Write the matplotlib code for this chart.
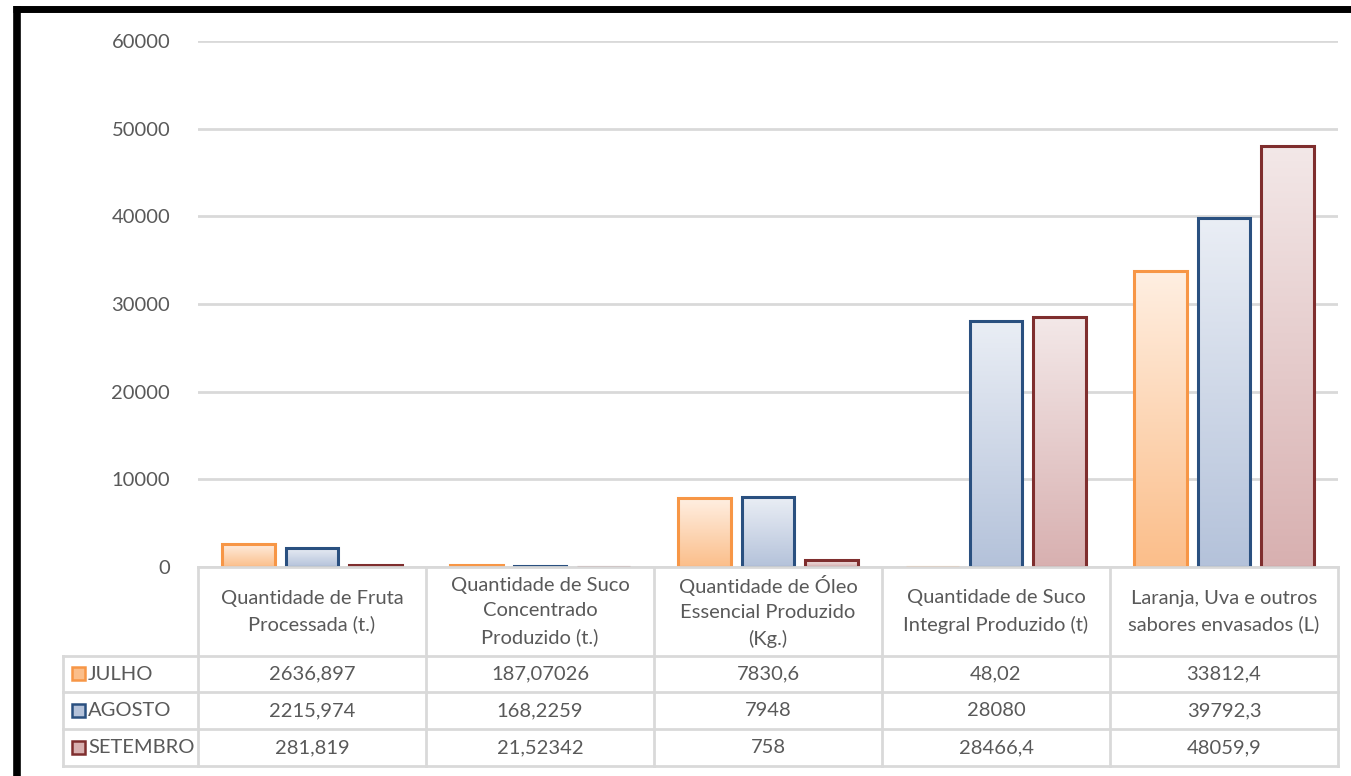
import numpy as np
import matplotlib
matplotlib.use("Agg")
import matplotlib.pyplot as plt
from matplotlib.colors import LinearSegmentedColormap
from matplotlib.patches import Rectangle

categories = [
    "Quantidade de Fruta\nProcessada (t.)",
    "Quantidade de Suco\nConcentrado\nProduzido (t.)",
    "Quantidade de Óleo\nEssencial Produzido\n(Kg.)",
    "Quantidade de Suco\nIntegral Produzido (t)",
    "Laranja, Uva e outros\nsabores envasados (L)",
]
series_names = ["JULHO", "AGOSTO", "SETEMBRO"]
julho = [2636.897, 187.07026, 7830.6, 48.02, 33812.4]
agosto = [2215.974, 168.2259, 7948, 28080, 39792.3]
setembro = [281.819, 21.52342, 758, 28466.4, 48059.9]
julho_txt = ["2636,897", "187,07026", "7830,6", "48,02", "33812,4"]
agosto_txt = ["2215,974", "168,2259", "7948", "28080", "39792,3"]
setembro_txt = ["281,819", "21,52342", "758", "28466,4", "48059,9"]
yticks = [0, 10000, 20000, 30000, 40000, 50000, 60000]

series = [julho, agosto, setembro]
series_txt = [julho_txt, agosto_txt, setembro_txt]
edge_colors = ["#F79646", "#2A5080", "#7F2E2E"]
grad = [("#FFEFE2", "#FBBE8A"), ("#EAEEF5", "#B4C2DA"), ("#F3E8E8", "#D8B0B0")]

plt.rcParams['font.family'] = ['Lato', 'DejaVu Sans']
TXT = "#595959"
GRID = "#D9D9D9"
FS = 14.5

W, H = 1351, 776
fig = plt.figure(figsize=(W / 100, H / 100), dpi=100)

# pixel layout
x0, x1 = 198, 1338
y_top, y_zero = 41, 567
ax = fig.add_axes([x0 / W, 1 - y_zero / H, (x1 - x0) / W, (y_zero - y_top) / H])
ax.set_xlim(-0.5, len(categories) - 0.5)
ax.set_ylim(0, 60000)
ax.set_yticks(yticks)
ax.set_yticklabels([str(v) for v in yticks], color=TXT, fontsize=FS)
ax.tick_params(axis='y', length=0, pad=20)
ax.set_xticks([])
for s in ax.spines.values():
    s.set_visible(False)
ax.grid(axis='y', color=GRID, linewidth=2)
ax.set_axisbelow(True)

xs = np.arange(len(categories))
bw = 0.232
off = 0.277
for i, vals in enumerate(series):
    bars = ax.bar(xs + (i - 1) * off, vals, width=bw, facecolor='none',
                  edgecolor=edge_colors[i], linewidth=2.2, zorder=3)
    cmap = LinearSegmentedColormap.from_list(f"g{i}", [grad[i][1], grad[i][0]])
    g = np.linspace(0, 1, 256).reshape(-1, 1)
    for b in bars:
        bx, by = b.get_x(), b.get_y()
        bwid, bh = b.get_width(), b.get_height()
        im = ax.imshow(g, cmap=cmap, origin='lower', aspect='auto',
                       extent=[bx, bx + bwid, by, by + bh], zorder=2,
                       interpolation='bilinear')
        im.set_clip_path(b)
ax.set_xlim(-0.5, len(categories) - 0.5)
ax.set_ylim(0, 60000)

# overlay axes for table and frame
ov = fig.add_axes([0, 0, 1, 1])
ov.set_xlim(0, W)
ov.set_ylim(H, 0)
ov.axis('off')

# frame
ov.plot([13, W], [9, 9], color='black', lw=5, solid_capstyle='butt')
ov.plot([16.5, 16.5], [6, H], color='black', lw=5.5, solid_capstyle='butt')

col_w = (x1 - x0) / len(categories)
row_top = [y_zero, 656, 692, 729, 766]
leg_x0 = 63
lw_t = 2
# horizontal lines
ov.plot([x0, x1], [row_top[0], row_top[0]], color=GRID, lw=lw_t)
for yy in row_top[1:]:
    ov.plot([leg_x0, x1], [yy, yy], color=GRID, lw=lw_t)
# vertical lines
for k in range(len(categories) + 1):
    xx = x0 + k * col_w
    ov.plot([xx, xx], [row_top[0], row_top[-1]], color=GRID, lw=lw_t)
ov.plot([leg_x0, leg_x0], [row_top[1], row_top[-1]], color=GRID, lw=lw_t)

# header text
for k, c in enumerate(categories):
    ov.text(x0 + (k + 0.5) * col_w, (row_top[0] + row_top[1]) / 2 + 0, c,
            ha='center', va='center', color=TXT, fontsize=FS, linespacing=1.6)

# rows
for r in range(3):
    yc = (row_top[r + 1] + row_top[r + 2]) / 2
    for k in range(len(categories)):
        ov.text(x0 + (k + 0.5) * col_w, yc, series_txt[r][k], ha='center',
                va='center', color=TXT, fontsize=FS)
    # legend key
    ov.add_patch(Rectangle((72, yc - 7), 13, 13, facecolor=grad[r][1],
                           edgecolor=edge_colors[r], lw=1.8))
    ov.text(88, yc, series_names[r], ha='left', va='center', color=TXT,
            fontsize=FS)

fig.savefig("out.png", dpi=100)
